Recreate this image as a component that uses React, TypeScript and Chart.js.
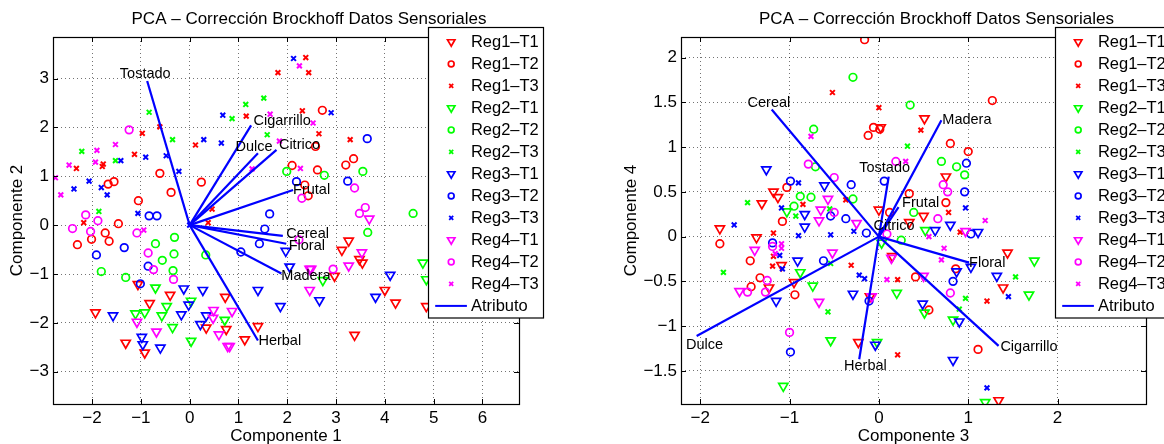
import React, { useEffect, useRef } from 'react';
import { Chart, registerables } from 'chart.js';
Chart.register(...registerables);

const FONT = "'Liberation Sans', Arial, Helvetica, sans-serif";
const TITLE = 'PCA – Corrección Brockhoff Datos Sensoriales';

const GROUP_LABELS = ['Reg1–T1', 'Reg1–T2', 'Reg1–T3', 'Reg2–T1', 'Reg2–T2', 'Reg2–T3', 'Reg3–T1', 'Reg3–T2', 'Reg3–T3', 'Reg4–T1', 'Reg4–T2', 'Reg4–T3'];
const GROUP_COLORS = ['#ff0000', '#ff0000', '#ff0000', '#00ff00', '#00ff00', '#00ff00', '#0000ff', '#0000ff', '#0000ff', '#ff00ff', '#ff00ff', '#ff00ff'];
const GROUP_MARKERS = ['tri', 'circ', 'x', 'tri', 'circ', 'x', 'tri', 'circ', 'x', 'tri', 'circ', 'x'];
const ATTRIBUTES = ['Tostado', 'Cigarrillo', 'Dulce', 'Citrico', 'Frutal', 'Cereal', 'Floral', 'Madera', 'Herbal'];
const LEGEND_LINE_LABEL = 'Atributo';

// ---------- Componente 1 vs Componente 2 ----------
const c12Reg1T1 = [[-1.06, -1.21], [-0.40, -1.43], [0.73, -1.47], [-0.82, -1.60], [-1.93, -1.79], [0.34, -2.10], [0.75, -2.13], [-1.31, -2.41], [-0.92, -2.61], [1.13, -2.34], [3.26, -0.32], [3.12, -0.51], [3.48, -0.70], [3.54, -0.77], [2.97, -1.04], [4.0, -1.33], [4.22, -1.59], [4.85, -1.66], [1.40, -2.07], [3.38, -2.25]];
const c12Reg1T2 = [[-0.61, 1.06], [-1.67, 0.84], [-1.55, 0.89], [-0.38, 0.67], [-1.05, 0.50], [0.24, 0.88], [2.72, 2.35], [2.58, 1.61], [2.10, 1.22], [2.62, 1.13], [3.20, 1.23], [3.36, 1.36], [2.36, 0.82], [2.43, 0.60], [-1.46, 0.03], [-2.30, -0.40], [-2.01, -0.29], [-1.65, -0.33], [-1.73, -0.16]];
const c12Reg1T3 = [[-0.97, 1.88], [-0.61, 2.01], [0.12, 1.64], [1.16, 2.23], [-2.32, 1.16], [-1.79, 1.20], [-1.77, 1.25], [-1.13, 1.45], [2.38, 3.43], [1.81, 3.12], [2.44, 3.12], [2.31, 2.34], [2.65, 1.87], [3.29, 1.75], [-2.17, 0.05], [0.38, 0.05], [0.46, 0.33]];
const c12Reg2T1 = [[-0.70, -1.28], [0.03, -1.55], [-0.47, -1.66], [-1.11, -1.81], [-0.92, -1.79], [-0.57, -1.85], [0.72, -1.94], [-0.35, -2.09], [0.03, -2.37], [2.73, -1.13], [4.78, -0.77], [4.85, -1.11]];
const c12Reg2T2 = [[1.99, 1.10], [2.76, 1.02], [3.55, 1.10], [4.58, 0.24], [3.65, -0.15], [-0.31, -0.25], [-0.70, -0.38], [-0.32, -0.59], [-0.56, -0.72], [0.33, -0.61], [-1.81, -0.95], [-0.34, -0.93], [-1.31, -1.07]];
const c12Reg2T3 = [[-0.83, 2.31], [-0.35, 1.75], [0.87, 2.18], [1.15, 2.47], [-2.21, 1.51], [-1.52, 1.32], [1.52, 2.60], [1.59, 1.85], [-1.86, 0.28]];
const c12Reg3T1 = [[-0.12, -1.30], [0.27, -1.33], [-0.02, -1.63], [-1.57, -1.85], [-0.17, -1.83], [0.34, -1.85], [0.22, -2.03], [-0.98, -2.29], [-0.96, -2.44], [-0.60, -2.51], [1.97, -0.53], [2.05, -0.85], [4.11, -1.02], [1.40, -1.33], [1.86, -1.66], [2.66, -1.54], [3.81, -1.47]];
const c12Reg3T2 = [[3.64, 1.77], [3.24, 0.90], [2.19, 0.89], [-0.83, 0.19], [-0.67, 0.19], [-1.34, -0.46], [-1.91, -0.61], [-0.85, -0.84], [-1.01, -1.20], [1.64, 0.23], [1.54, -0.08], [1.43, -0.38], [1.05, -0.55]];
const c12Reg3T3 = [[0.29, 1.75], [0.65, 1.68], [0.68, 2.25], [-1.41, 1.32], [-0.90, 1.39], [-0.48, 1.42], [-0.22, 1.10], [-2.06, 0.90], [-2.37, 0.74], [-1.81, 0.77], [-1.69, 0.62], [2.13, 3.41], [2.90, 2.30], [-1.06, 0.24], [0.0, 0.0]];
const c12Reg4T1 = [[0.49, -1.74], [0.48, -1.90], [0.87, -1.76], [-1.08, -1.98], [-0.68, -2.18], [0.60, -2.24], [0.82, -2.48], [0.78, -2.48], [3.68, 0.13], [3.53, -0.56], [3.26, -0.83], [2.46, -0.90], [2.49, -0.90], [2.46, -1.33]];
const c12Reg4T2 = [[-1.24, 1.95], [2.30, 0.55], [3.38, 0.76], [3.60, 0.36], [3.48, 0.24], [-2.13, 0.21], [-1.88, 0.09], [-2.40, -0.07], [-2.03, -0.13], [-1.08, -0.16], [-0.85, -0.57], [-0.74, -0.91], [-0.33, -1.11], [2.24, -0.30], [2.94, -0.90]];
const c12Reg4T3 = [[-1.90, 1.53], [-1.52, 1.65], [-2.47, 1.23], [-1.93, 1.29], [-2.75, 0.97], [-2.64, 0.62], [2.25, 3.26], [1.65, 2.27], [2.53, 2.09], [1.84, 1.72], [1.28, 1.15], [2.27, 1.16], [-0.94, -0.10]];

const c12VecX = [-0.87, 1.26, 1.40, 1.78, 2.12, 1.91, 1.98, 1.88, 1.40];
const c12VecY = [2.95, 2.04, 1.47, 1.54, 0.72, -0.22, -0.38, -0.99, -2.36];
const c12LabX = [-1.43, 1.31, 0.94, 1.83, 2.12, 1.98, 2.03, 1.88, 1.41];
const c12LabY = [3.10, 2.13, 1.60, 1.63, 0.71, -0.18, -0.42, -1.04, -2.37];

// ---------- Componente 3 vs Componente 4 ----------
const c34Reg1T1 = [[-1.18, 0.50], [-1.13, 0.44], [-1.31, 0.37], [-1.78, 0.09], [0.0, 0.30], [-1.37, -0.01], [-1.23, -0.57], [-0.95, -0.51], [-1.09, -0.32], [-0.10, -0.67], [-0.23, -1.18], [0.02, 1.22], [0.51, 1.32], [0.75, 0.67], [0.50, 0.23], [0.34, 0.16], [0.15, -0.22], [1.44, -0.18], [1.39, -0.57], [1.34, -1.83]];
const c34Reg1T2 = [[-0.16, 2.20], [-0.12, 1.13], [-0.06, 1.22], [0.01, 1.20], [-1.03, 0.55], [-1.08, 0.17], [-1.78, -0.08], [-1.44, -0.27], [-1.33, -0.46], [-1.43, -0.56], [-0.94, -0.65], [1.27, 1.52], [0.80, 1.04], [1.0, 0.95], [0.34, 0.48], [0.75, 0.38], [0.12, 0.27], [0.86, -0.36], [0.41, -0.45], [0.56, -0.82], [1.11, -1.26]];
const c34Reg1T3 = [[-0.52, 1.61], [0.0, 1.44], [-0.37, 0.41], [-0.85, 0.36], [-1.18, 0.04], [-1.18, -0.22], [-1.19, -0.33], [-0.31, -0.32], [0.47, 1.19], [0.78, 0.27], [0.91, 0.05], [0.21, -0.48], [1.21, -0.72], [0.21, -1.32]];
const c34Reg2T1 = [[-1.03, 0.28], [-0.88, -0.40], [-0.74, -0.55], [-0.54, -1.16], [-1.07, -1.67], [-0.02, -1.18], [0.52, 0.07], [0.03, -0.07], [1.74, -0.27], [1.68, -0.65], [0.20, -0.63], [0.51, -0.85], [0.83, -0.93], [1.19, -1.85]];
const c34Reg2T2 = [[-0.29, 1.78], [-0.73, 1.20], [-0.71, 0.78], [-0.88, 0.45], [-0.76, 0.44], [-0.29, 0.42], [-0.95, 0.34], [0.35, 1.47], [0.70, 0.84], [0.87, 0.78], [0.96, 0.69], [0.39, 0.27], [0.25, -0.04]];
const c34Reg2T3 = [[-1.47, 0.38], [-0.93, 0.23], [-0.55, 0.31], [-1.74, -0.40], [-0.54, -0.30], [-0.57, -0.84], [0.32, 1.01], [1.53, -0.45], [0.97, -0.69], [0.90, -0.81]];
const c34Reg3T1 = [[-1.26, 0.75], [-0.61, 0.57], [-0.83, 0.25], [-0.83, 0.11], [-0.91, -0.27], [-1.15, -0.72], [-0.29, -0.64], [-0.04, -1.21], [0.63, 0.07], [0.80, 0.13], [1.11, 0.05], [1.03, -0.34], [0.87, -0.39], [1.32, -0.44], [0.49, -0.75], [0.90, -0.95], [0.83, -1.38]];
const c34Reg3T2 = [[-0.99, 0.62], [-0.31, 0.58], [-0.54, 0.23], [-0.37, 0.20], [-1.19, -0.07], [-0.62, -0.27], [-0.11, -0.72], [-0.14, 0.04], [-0.99, -1.29], [0.98, 0.82], [0.96, 0.50], [0.06, 0.62], [1.03, 0.03], [0.83, -0.50]];
const c34Reg3T3 = [[-0.90, 0.60], [-1.09, 0.32], [-1.62, 0.13], [-0.90, 0.01], [-0.54, 0.02], [-1.11, -0.21], [-1.08, -0.36], [-0.22, -0.43], [-0.16, -0.47], [-0.28, 0.06], [0.97, 0.32], [1.45, -0.67], [1.21, -1.69]];
const c34Reg4T1 = [[-0.57, 0.42], [-0.65, 0.30], [-0.67, 0.18], [-0.25, 0.15], [-1.39, -0.15], [-1.56, -0.61], [-0.52, -0.18], [-0.67, -0.73], [-0.08, -0.67], [0.97, 0.06], [0.14, -0.24], [0.50, -0.44]];
const c34Reg4T2 = [[-0.79, 0.81], [-0.50, 0.66], [-0.50, 0.27], [-1.19, -0.11], [-1.25, -0.49], [-1.27, -0.62], [-1.47, -0.62], [-1.0, -1.07], [0.19, 0.84], [0.72, 0.58], [0.77, 0.50], [0.66, 0.20], [0.09, 0.03], [0.80, -0.63]];
const c34Reg4T3 = [[-0.76, 1.12], [-1.09, -0.08], [-1.09, -0.13], [-1.16, -0.19], [0.30, 0.84], [1.19, 0.18], [0.56, 0.0], [0.73, -0.13], [0.70, -0.26], [0.09, -0.48]];

const c34VecX = [0.11, 1.34, -2.04, 0.04, 0.22, -1.20, 1.01, 0.70, -0.22];
const c34VecY = [0.67, -1.22, -1.11, 0.08, 0.33, 1.42, -0.29, 1.30, -1.37];
const c34LabX = [-0.22, 1.36, -2.16, -0.06, 0.26, -1.47, 1.01, 0.71, -0.39];
const c34LabY = [0.77, -1.23, -1.21, 0.12, 0.37, 1.49, -0.30, 1.30, -1.44];

const c12Groups = [c12Reg1T1, c12Reg1T2, c12Reg1T3, c12Reg2T1, c12Reg2T2, c12Reg2T3, c12Reg3T1, c12Reg3T2, c12Reg3T3, c12Reg4T1, c12Reg4T2, c12Reg4T3];
const c34Groups = [c34Reg1T1, c34Reg1T2, c34Reg1T3, c34Reg2T1, c34Reg2T2, c34Reg2T3, c34Reg3T1, c34Reg3T2, c34Reg3T3, c34Reg4T1, c34Reg4T2, c34Reg4T3];

const fmt = (v: number) => {
  const r = Math.round(v * 100) / 100;
  return String(r).replace('-', '−');
};

function drawMarker(ctx: CanvasRenderingContext2D, kind: string, x: number, y: number, color: string) {
  ctx.save();
  ctx.strokeStyle = color;
  ctx.beginPath();
  if (kind === 'tri') {
    const r = 4.3;
    ctx.lineWidth = 1.7;
    ctx.moveTo(x, y + r);
    ctx.lineTo(x - r * 0.866, y - r * 0.5);
    ctx.lineTo(x + r * 0.866, y - r * 0.5);
    ctx.closePath();
  } else if (kind === 'circ') {
    ctx.lineWidth = 1.7;
    ctx.arc(x, y, 2.9, 0, Math.PI * 2);
  } else {
    const h = 2;
    ctx.lineWidth = 1.8;
    ctx.moveTo(x - h, y - h);
    ctx.lineTo(x + h, y + h);
    ctx.moveTo(x + h, y - h);
    ctx.lineTo(x - h, y + h);
  }
  ctx.stroke();
  ctx.restore();
}

type Spec = {
  groups: number[][][];
  vecX: number[]; vecY: number[]; labX: number[]; labY: number[];
  xMin: number; xMax: number; yMin: number; yMax: number; xStep: number; yStep: number;
  xTitle: string; yTitle: string; padRight: number; yAxisWidth: number;
};

function buildChart(canvas: HTMLCanvasElement, s: Spec) {
  const datasets: any[] = [];
  s.groups.forEach((g, i) => {
    const m = GROUP_MARKERS[i];
    datasets.push({
      label: GROUP_LABELS[i],
      data: g.map(([x, y]) => ({ x, y })),
      showLine: false,
      pointStyle: m === 'tri' ? 'triangle' : m === 'circ' ? 'circle' : 'crossRot',
      pointRotation: m === 'tri' ? 180 : 0,
      pointRadius: m === 'tri' ? 5.3 : m === 'circ' ? 3.8 : 3.4,
      pointBorderColor: GROUP_COLORS[i],
      pointBackgroundColor: 'rgba(0,0,0,0)',
      pointBorderWidth: m === 'x' ? 2 : 1.7,
      order: 20 - i,
    });
  });
  ATTRIBUTES.forEach((a, i) => {
    datasets.push({
      label: a,
      data: [{ x: 0, y: 0 }, { x: s.vecX[i], y: s.vecY[i] }],
      showLine: true,
      borderColor: '#0000ff',
      borderWidth: 2.2,
      pointRadius: 0,
      order: -1,
    });
  });

  const decor = {
    id: 'decor',
    afterDatasetsDraw(chart: any) {
      const ctx = chart.ctx as CanvasRenderingContext2D;
      const xs = chart.scales.x, ys = chart.scales.y;
      ctx.save();
      ctx.fillStyle = '#000';
      ctx.font = `14.5px ${FONT}`;
      ctx.textAlign = 'left';
      ctx.textBaseline = 'middle';
      ATTRIBUTES.forEach((a, i) => {
        ctx.fillText(a, xs.getPixelForValue(s.labX[i]), ys.getPixelForValue(s.labY[i]));
      });
      ctx.restore();
    },
    afterDraw(chart: any) {
      const ctx = chart.ctx as CanvasRenderingContext2D;
      const ca = chart.chartArea;
      const xs = chart.scales.x, ys = chart.scales.y;
      ctx.save();
      // inward ticks
      ctx.strokeStyle = '#000';
      ctx.lineWidth = 1;
      ctx.beginPath();
      xs.ticks.forEach((t: any) => {
        const px = Math.round(xs.getPixelForValue(t.value)) + 0.5;
        ctx.moveTo(px, ca.bottom); ctx.lineTo(px, ca.bottom - 5);
        ctx.moveTo(px, ca.top); ctx.lineTo(px, ca.top + 5);
      });
      ys.ticks.forEach((t: any) => {
        const py = Math.round(ys.getPixelForValue(t.value)) + 0.5;
        ctx.moveTo(ca.left, py); ctx.lineTo(ca.left + 5, py);
        ctx.moveTo(ca.right, py); ctx.lineTo(ca.right - 5, py);
      });
      ctx.stroke();
      // box
      ctx.lineWidth = 1.2;
      ctx.strokeRect(Math.round(ca.left) + 0.5, Math.round(ca.top) + 0.5, Math.round(ca.right - ca.left), Math.round(ca.bottom - ca.top));
      // title
      ctx.fillStyle = '#000';
      ctx.font = `17px ${FONT}`;
      ctx.textAlign = 'center';
      ctx.textBaseline = 'alphabetic';
      ctx.fillText(TITLE, (ca.left + ca.right) / 2 + 23, 24);
      // axis titles
      ctx.fillText(s.xTitle, (ca.left + ca.right) / 2, 441);
      let maxW = 0;
      ys.ticks.forEach((t: any) => {
        maxW = Math.max(maxW, ctx.measureText(fmt(t.value)).width);
      });
      const yTitleX = ca.left - 4 - maxW - 12;
      ctx.save();
      ctx.translate(yTitleX, (ca.top + ca.bottom) / 2);
      ctx.rotate(-Math.PI / 2);
      ctx.textBaseline = 'middle';
      ctx.fillText(s.yTitle, 0, 0);
      ctx.restore();
      // legend
      const bx = Math.round(ca.right - 90.7) + 0.5;
      const by = 27.5;
      const bw = 115;
      const bh = 290.5;
      ctx.fillStyle = '#fff';
      ctx.fillRect(bx, by, bw, bh);
      ctx.strokeStyle = '#000';
      ctx.lineWidth = 1.2;
      ctx.strokeRect(bx, by, bw, bh);
      ctx.font = `16.5px ${FONT}`;
      ctx.textAlign = 'left';
      ctx.textBaseline = 'middle';
      GROUP_LABELS.forEach((lab, i) => {
        const y = by + 14.4 + i * 22;
        drawMarker(ctx, GROUP_MARKERS[i], bx + 22.7, y, GROUP_COLORS[i]);
        ctx.fillStyle = '#000';
        ctx.fillText(lab, bx + 42.4, y + 1);
      });
      const ly = by + 14.4 + 12 * 22;
      ctx.strokeStyle = '#0000ff';
      ctx.lineWidth = 2;
      ctx.beginPath();
      ctx.moveTo(bx + 6.7, ly); ctx.lineTo(bx + 38.4, ly);
      ctx.stroke();
      ctx.fillStyle = '#000';
      ctx.fillText(LEGEND_LINE_LABEL, bx + 42.4, ly + 1);
      ctx.restore();
    },
  };

  const axisCommon = (min: number, max: number, step: number, isX: boolean) => ({
    type: 'linear',
    min, max,
    afterFit: (sc: any) => { if (isX) sc.height = 40; else sc.width = s.yAxisWidth; },
    ticks: {
      stepSize: step,
      includeBounds: false,
      autoSkip: false,
      maxRotation: 0,
      padding: 4,
      color: '#000',
      font: { family: FONT, size: 17 },
      callback: (v: any) => fmt(Number(v)),
    },
    grid: { color: 'rgba(0,0,0,0.55)', lineWidth: 1, drawTicks: false, borderDash: [1, 3] },
    border: { display: false, dash: [1, 3] },
  });

  return new Chart(canvas, {
    type: 'scatter',
    data: { datasets },
    options: {
      responsive: false,
      animation: false,
      devicePixelRatio: 1,
      events: [],
      layout: { padding: { left: 0, top: 37, right: s.padRight, bottom: 0 } },
      plugins: { legend: { display: false }, tooltip: { enabled: false }, title: { display: false } },
      scales: {
        x: axisCommon(s.xMin, s.xMax, s.xStep, true) as any,
        y: axisCommon(s.yMin, s.yMax, s.yStep, false) as any,
      },
    } as any,
    plugins: [decor],
  });
}

export default function App() {
  const leftRef = useRef<HTMLCanvasElement>(null);
  const rightRef = useRef<HTMLCanvasElement>(null);
  useEffect(() => {
    const c1 = buildChart(leftRef.current!, {
      groups: c12Groups, vecX: c12VecX, vecY: c12VecY, labX: c12LabX, labY: c12LabY,
      xMin: -2.8, xMax: 6.75, yMin: -3.66, yMax: 3.85, xStep: 1, yStep: 1,
      xTitle: 'Componente 1', yTitle: 'Componente 2', padRight: 41, yAxisWidth: 53,
    });
    const c2 = buildChart(rightRef.current!, {
      groups: c34Groups, vecX: c34VecX, vecY: c34VecY, labX: c34LabX, labY: c34LabY,
      xMin: -2.215, xMax: 2.99, yMin: -1.87, yMax: 2.23, xStep: 1, yStep: 0.5,
      xTitle: 'Componente 3', yTitle: 'Componente 4', padRight: 74, yAxisWidth: 81,
    });
    return () => { c1.destroy(); c2.destroy(); };
  }, []);
  return (
    <div style={{ position: 'fixed', left: 0, top: 0, width: 1164, height: 444, overflow: 'hidden', background: '#fff' }}>
      <canvas ref={leftRef} width={560} height={444} style={{ position: 'absolute', left: 0, top: 0, width: 560, height: 444 }} />
      <canvas ref={rightRef} width={620} height={444} style={{ position: 'absolute', left: 600, top: 0, width: 620, height: 444 }} />
    </div>
  );
}
